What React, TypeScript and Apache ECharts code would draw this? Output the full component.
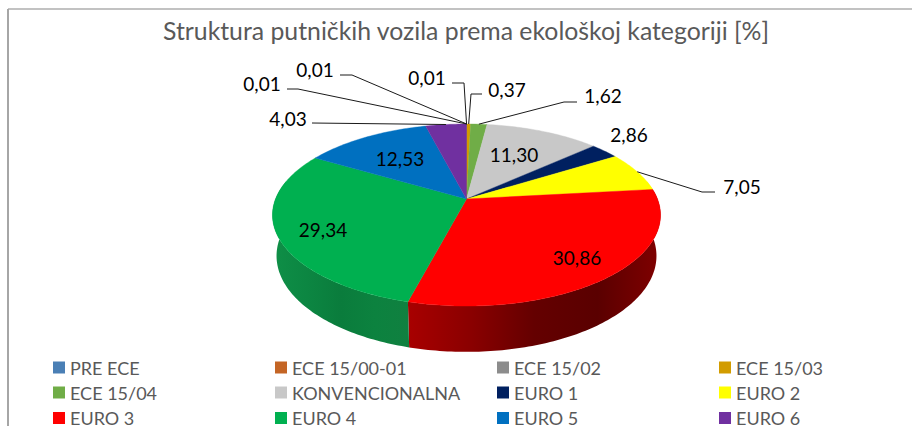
import React, { useEffect, useRef } from "react";
import * as echarts from "echarts";

const categories = ["PRE ECE", "ECE 15/00-01", "ECE 15/02", "ECE 15/03", "ECE 15/04", "KONVENCIONALNA", "EURO 1", "EURO 2", "EURO 3", "EURO 4", "EURO 5", "EURO 6"];
const values = [0.01, 0.01, 0.01, 0.37, 1.62, 11.3, 2.86, 7.05, 30.86, 29.34, 12.53, 4.03];
const colors = ["#4a7fb5", "#c46525", "#8c8c8c", "#d29c00", "#70ad47", "#c8c8c8", "#002060", "#ffff00", "#ff0000", "#00b050", "#0070c0", "#7030a0"];
const titleText = "Struktura putničkih vozila prema ekološkoj kategoriji [%]";

// Label placement per slice: text centre and the leader's outer points (none = no leader).
const labelLayout: { x: number; y: number; line?: number[][] }[] = [
  { x: 427, y: 77, line: [[452, 83], [464, 83]] },
  { x: 315, y: 69, line: [[340, 75], [352, 75]] },
  { x: 262, y: 83, line: [[287, 89], [298, 89]] },
  { x: 507, y: 89, line: [[482, 94], [471, 94]] },
  { x: 603, y: 95, line: [[577, 102], [564, 102]] },
  { x: 514, y: 154 },
  { x: 629, y: 134 },
  { x: 742, y: 186, line: [[715, 192], [702, 192]] },
  { x: 577, y: 257 },
  { x: 323, y: 229 },
  { x: 400, y: 158 },
  { x: 288, y: 118, line: [[312, 123]] },
];

const FONT = "Lato";
const total = values.reduce((a, b) => a + b, 0);
const cum: number[] = [];
values.reduce((acc, v, i) => ((cum[i] = acc), acc + v), 0);

const K = 0.176;
function project(deg: number, level: "top" | "bottom"): number[] {
  const t = (deg * Math.PI) / 180;
  const s = Math.sin(t);
  const c = Math.cos(t);
  const d = 1 + K * c;
  if (level === "top") return [466.5 + (191 * s) / d, 199 - (88.2 * c) / d];
  return [466.5 + (187 * s) / d, 239 - (93 * c) / d];
}
function arc(a: number, b: number, level: "top" | "bottom"): number[][] {
  const n = Math.max(1, Math.ceil(b - a));
  const pts: number[][] = [];
  for (let i = 0; i <= n; i++) pts.push(project(a + ((b - a) * i) / n, level));
  return pts;
}

const wallStops: Record<number, string[]> = {
  8: ["#a80000", "#8a0000", "#640000", "#5a0000", "#800000"],
  9: ["#0f8f47", "#0c8642", "#0a7c3c", "#0c823f", "#108040"],
};

function sliceRender(index: number) {
  return () => {
    const start = (cum[index] / total) * 360;
    const end = ((cum[index] + values[index]) / total) * 360;
    const children: any[] = [];
    const wa = Math.max(start, 78);
    const wb = Math.min(end, 282);
    if (wb > wa) {
      const stops = wallStops[index] || [colors[index], colors[index]];
      children.push({
        type: "polygon",
        shape: { points: [...arc(wa, wb, "top"), ...arc(wa, wb, "bottom").reverse()] },
        style: {
          fill: new echarts.graphic.LinearGradient(
            0, 0, 1, 0,
            stops.map((color, i) => ({ offset: i / (stops.length - 1), color }))
          ),
        },
      });
    }
    children.push({
      type: "polygon",
      shape: { points: [[466.5, 199], ...arc(start, end, "top")] },
      style: { fill: colors[index], stroke: colors[index], lineWidth: 0.4 },
    });
    return { type: "group", children };
  };
}

function labelRender(params: any) {
  const i = params.dataIndex;
  const l = labelLayout[i];
  const mid = ((cum[i] + values[i] / 2) / total) * 360;
  const children: any[] = [
    {
      type: "text",
      style: {
        text: values[i].toFixed(2).replace(".", ","),
        x: l.x,
        y: l.y,
        fill: "#000000",
        fontSize: 19,
        fontFamily: FONT,
        textAlign: "center",
        textVerticalAlign: "middle",
      },
    },
  ];
  if (l.line) {
    children.push({
      type: "polyline",
      shape: { points: [...l.line, project(mid, "top")] },
      style: { stroke: "#1a1a1a", lineWidth: 1, fill: "none" },
    });
  }
  return { type: "group", children };
}

const legendCols = [53, 275, 497, 719];
const legendRows = [358.5, 383.5, 409];

export default function App() {
  const ref = useRef<HTMLDivElement>(null);
  useEffect(() => {
    const chart = echarts.init(ref.current!, null, { renderer: "svg" });
    chart.setOption({
      animation: false,
      backgroundColor: "#ffffff",
      title: {
        text: titleText,
        left: 461,
        top: 13,
        textAlign: "center",
        textStyle: { color: "#595959", fontSize: 24.8, fontWeight: "normal", fontFamily: FONT },
      },
      legend: categories.map((name, i) => ({
        orient: "horizontal",
        left: legendCols[i % 4],
        top: legendRows[Math.floor(i / 4)],
        padding: 0,
        itemWidth: 12,
        itemHeight: 12,
        itemGap: 0,
        icon: "rect",
        selectedMode: false,
        data: [name],
        textStyle: { color: "#595959", fontSize: 18, fontFamily: FONT, lineHeight: 12 },
      })),
      graphic: [
        {
          type: "line",
          shape: { x1: 8, y1: 9, x2: 912, y2: 9 },
          style: { stroke: "#858585", lineWidth: 1.2 },
        },
        {
          type: "line",
          shape: { x1: 8, y1: 9, x2: 8, y2: 426 },
          style: { stroke: "#a6a6a6", lineWidth: 2 },
        },
      ],
      series: [
        ...categories.map((name, i) => ({
          type: "custom",
          name,
          coordinateSystem: "none",
          itemStyle: { color: colors[i] },
          data: [[values[i]]],
          renderItem: sliceRender(i),
          silent: true,
        })),
        {
          type: "custom",
          name: "labels",
          coordinateSystem: "none",
          z: 10,
          data: values.map((v) => [v]),
          renderItem: labelRender,
          silent: true,
        },
      ],
    });
    return () => chart.dispose();
  }, []);
  return <div ref={ref} style={{ position: "fixed", left: 0, top: 0, width: 912, height: 426 }} />;
}
